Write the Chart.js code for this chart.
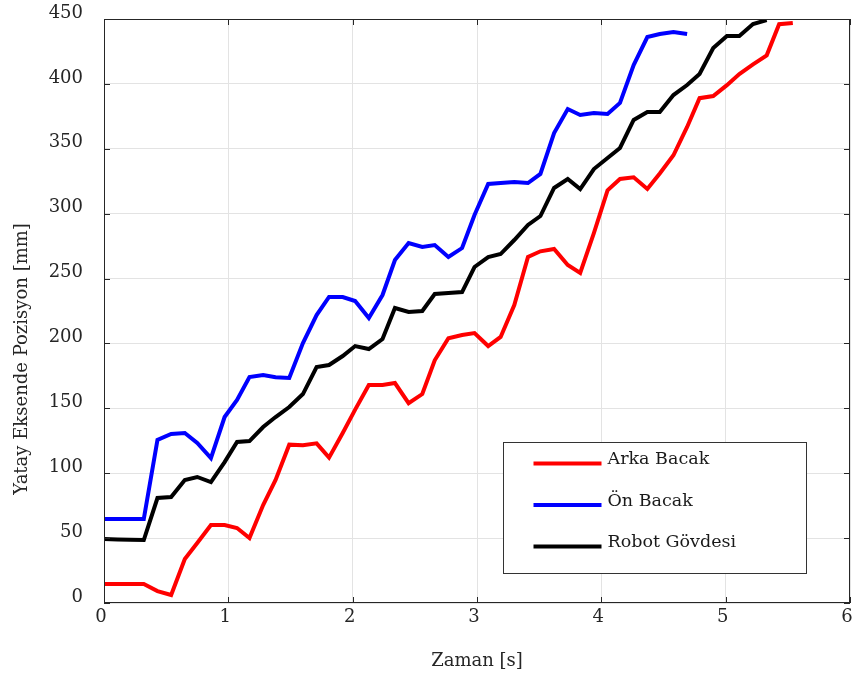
<!DOCTYPE html>
<html>
<head>
<meta charset="utf-8">
<script src="https://cdn.jsdelivr.net/npm/chart.js@4"></script>
<style>
  html, body { margin: 0; padding: 0; background: #fff; }
  #wrap { width: 852px; height: 679px; }
</style>
</head>
<body>
<div id="wrap"><canvas id="c"></canvas></div>
<script>
// Sample times [s]
const zaman = [0, 0.11, 0.21, 0.32, 0.43, 0.54, 0.65, 0.75, 0.86, 0.97,
  1.07, 1.17, 1.28, 1.38, 1.49, 1.60, 1.71, 1.81, 1.92, 2.02,
  2.13, 2.24, 2.34, 2.45, 2.56, 2.66, 2.77, 2.88, 2.98, 3.09,
  3.19, 3.30, 3.41, 3.51, 3.62, 3.73, 3.83, 3.94, 4.05, 4.15,
  4.26, 4.37, 4.47, 4.58, 4.69, 4.79, 4.90, 5.01, 5.11, 5.22,
  5.33, 5.43, 5.54];

// Horizontal position [mm]
const arkaBacak = [14.6, 14.6, 14.6, 14.6, 9.2, 6.2, 33.9, 46.2, 60.1, 60.1,
  57.8, 50.1, 75.5, 94.8, 122, 121.5, 123, 112, 131, 149,
  168, 168, 169.5, 154, 161, 187, 204, 206.5, 208, 198,
  205, 229.6, 266.6, 271, 272.8, 260.4, 254.3, 285, 318, 326.7,
  328, 319, 331, 345, 366.8, 389, 390.6, 399, 407.6, 415,
  422, 446, 447];

const onBacak = [64.7, 64.7, 64.7, 64.7, 125.6, 130.2, 131, 123.3, 111.7, 143.3,
  156.4, 174.1, 175.7, 174, 173.4, 200.3, 221.9, 235.8, 235.8, 232.7,
  219.6, 237.3, 264.3, 277.4, 274.3, 275.8, 266.6, 273.5, 299, 322.9,
  323.6, 324.4, 323.6, 330.6, 362.1, 380.6, 376, 377.6, 376.8, 385.3,
  414.5, 436.1, 438.4, 440, 438.4];

const robotGovdesi = [49.3, 49, 48.8, 48.5, 80.9, 81.7, 94.8, 97.1, 93.2, 108.6,
  124.1, 124.8, 135.6, 143.3, 151, 161, 181.8, 183.4, 190.3, 198,
  195.7, 203.4, 227.3, 224.2, 225, 238.1, 238.9, 239.6, 258.9, 266.6,
  268.9, 279.7, 291.3, 298.2, 319.8, 326.7, 319, 334.4, 342.9, 350.6,
  372.2, 378.3, 378.3, 391.4, 399.1, 407.6, 427.6, 436.9, 436.9, 446.1,
  449.2];

const seriesNames = ['Arka Bacak', 'Ön Bacak', 'Robot Gövdesi'];
const seriesColors = ['#ff0000', '#0000ff', '#000000'];
const yAxisTitle = 'Yatay Eksende Pozisyon [mm]';
const xAxisTitle = 'Zaman [s]';

const FONT = '"DejaVu Serif", "Liberation Serif", serif';
const TEXT_COLOR = '#262626';

function toPoints(values) {
  return values.map((v, i) => ({ x: zaman[i], y: v }));
}

// Box frame with inward tick marks on all four sides
const framePlugin = {
  id: 'frame',
  afterDatasetsDraw(chart) {
    const { ctx, chartArea: a, scales } = chart;
    ctx.save();
    ctx.strokeStyle = '#262626';
    ctx.lineWidth = 1;
    ctx.strokeRect(a.left + 0.5, a.top + 0.5, a.right - a.left - 1, a.bottom - a.top - 1);
    const tl = 6;
    ctx.beginPath();
    scales.x.ticks.forEach(t => {
      const px = Math.round(scales.x.getPixelForValue(t.value)) + 0.5;
      ctx.moveTo(px, a.bottom); ctx.lineTo(px, a.bottom - tl);
      ctx.moveTo(px, a.top); ctx.lineTo(px, a.top + tl);
    });
    scales.y.ticks.forEach(t => {
      const py = Math.round(scales.y.getPixelForValue(t.value)) + 0.5;
      ctx.moveTo(a.left, py); ctx.lineTo(a.left + tl, py);
      ctx.moveTo(a.right, py); ctx.lineTo(a.right - tl, py);
    });
    ctx.stroke();
    ctx.restore();
  }
};

// Vertical axis title, rotated
const yTitlePlugin = {
  id: 'yTitle',
  afterDraw(chart) {
    const { ctx } = chart;
    ctx.save();
    ctx.translate(22, 359);
    ctx.rotate(-Math.PI / 2);
    ctx.font = '18px ' + FONT;
    ctx.fillStyle = TEXT_COLOR;
    ctx.textAlign = 'center';
    ctx.textBaseline = 'middle';
    ctx.fillText(yAxisTitle, 0, 0);
    ctx.restore();
  }
};

// Legend box placed inside the plot area, lower right
const legendBoxPlugin = {
  id: 'legendBox',
  afterDraw(chart) {
    const { ctx, scales: { x, y } } = chart;
    const left = Math.round(x.getPixelForValue(3.21)) + 0.5;
    const right = Math.round(x.getPixelForValue(5.65)) + 0.5;
    const top = Math.round(y.getPixelForValue(124)) + 0.5;
    const bottom = Math.round(y.getPixelForValue(23)) + 0.5;
    ctx.save();
    ctx.fillStyle = '#ffffff';
    ctx.fillRect(left, top, right - left, bottom - top);
    ctx.strokeStyle = '#333333';
    ctx.lineWidth = 1;
    ctx.strokeRect(left, top, right - left, bottom - top);
    ctx.font = '17.5px ' + FONT;
    ctx.textBaseline = 'middle';
    ctx.textAlign = 'left';
    chart.data.datasets.forEach((ds, i) => {
      const rowY = top + 20 + i * 41.5;
      ctx.strokeStyle = ds.borderColor;
      ctx.lineWidth = 4;
      ctx.beginPath();
      ctx.moveTo(left + 30, rowY + 1);
      ctx.lineTo(left + 98, rowY + 1);
      ctx.stroke();
      ctx.fillStyle = '#1a1a1a';
      ctx.fillText(ds.label, left + 104, rowY - 3);
    });
    ctx.restore();
  }
};

const datasets = [arkaBacak, onBacak, robotGovdesi].map((vals, i) => ({
  label: seriesNames[i],
  data: toPoints(vals),
  borderColor: seriesColors[i],
  backgroundColor: seriesColors[i],
  borderWidth: 4,
  pointRadius: 0,
  tension: 0,
  fill: false
}));

new Chart(document.getElementById('c'), {
  type: 'line',
  data: { datasets },
  options: {
    responsive: true,
    maintainAspectRatio: false,
    animation: false,
    layout: { padding: { top: 19, right: 2, left: 0, bottom: 0 } },
    plugins: {
      legend: { display: false },
      tooltip: { enabled: false }
    },
    scales: {
      x: {
        type: 'linear',
        min: 0, max: 6,
        ticks: {
          stepSize: 1,
          color: TEXT_COLOR,
          font: { family: FONT, size: 18 },
          padding: 4,
          labelOffset: -3
        },
        grid: { color: '#e3e3e3', drawTicks: false },
        border: { display: false },
        title: {
          display: true,
          text: xAxisTitle,
          color: TEXT_COLOR,
          font: { family: FONT, size: 18 },
          padding: { top: 0, bottom: 7 }
        },
        afterFit(scale) {
          scale.height = 76;
          scale.paddingLeft = 0;
          scale.paddingRight = 0;
        }
      },
      y: {
        type: 'linear',
        min: 0, max: 450,
        ticks: {
          stepSize: 50,
          color: TEXT_COLOR,
          font: { family: FONT, size: 18 },
          padding: 21,
          labelOffset: -6
        },
        grid: { color: '#e3e3e3', drawTicks: false },
        border: { display: false },
        afterFit(scale) {
          scale.width = 104;
          scale.paddingTop = 0;
          scale.paddingBottom = 0;
        }
      }
    }
  },
  plugins: [framePlugin, yTitlePlugin, legendBoxPlugin]
});
</script>
</body>
</html>
